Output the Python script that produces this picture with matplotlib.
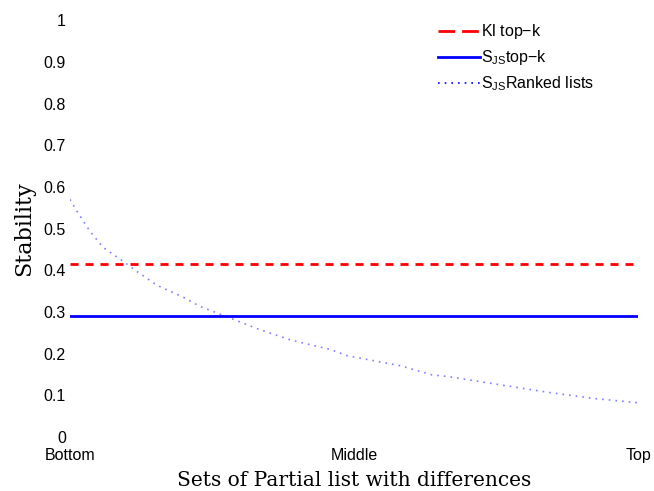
import numpy as np
import matplotlib.pyplot as plt

# data
kl_topk = 0.415
sjs_topk = 0.29
x_ranked = [0, 0.012, 0.035, 0.058, 0.095, 0.12, 0.153, 0.2, 0.229, 0.273, 0.333,
            0.39, 0.458, 0.488, 0.581, 0.637, 0.665, 0.772, 0.847, 0.925, 1.0]
y_ranked = [0.57, 0.542, 0.494, 0.455, 0.42, 0.395, 0.364, 0.335, 0.313, 0.29, 0.258,
            0.232, 0.21, 0.195, 0.171, 0.149, 0.145, 0.122, 0.106, 0.092, 0.082]
x_ticks = [0, 0.5, 1]
x_ticklabels = ['Bottom', 'Middle', 'Top']
y_ticks = [0, 0.1, 0.2, 0.3, 0.4, 0.5, 0.6, 0.7, 0.8, 0.9, 1]
y_ticklabels = ['0', '0.1', '0.2', '0.3', '0.4', '0.5', '0.6', '0.7', '0.8', '0.9', '1']

plt.rcParams['font.family'] = ['Liberation Sans', 'DejaVu Sans']
plt.rcParams['mathtext.fontset'] = 'custom'
plt.rcParams['mathtext.rm'] = 'Liberation Sans'
plt.rcParams['mathtext.it'] = 'Liberation Sans'

fig = plt.figure(figsize=(6.54, 4.91), dpi=100)
ax = fig.add_axes([0.107, 0.11, 0.869, 0.849])

ax.plot([0, 1], [kl_topk, kl_topk], color='red', ls=(0, (2.9, 2.5)), lw=2, label='Kl top$-$k')
ax.plot([0, 1], [sjs_topk, sjs_topk], color='blue', lw=2, label=r'S$_{\mathrm{JS}}$top$-$k')
ax.plot(x_ranked, y_ranked, color='blue', ls=(0, (1, 3)), lw=1.2, alpha=0.5,
        label=r'S$_{\mathrm{JS}}$Ranked lists')

ax.set_xlim(0, 1)
ax.set_ylim(0, 1)
ax.set_xticks(x_ticks)
ax.set_xticklabels(x_ticklabels, fontsize=11.5)
ax.set_yticks(y_ticks)
ax.set_yticklabels(y_ticklabels, fontsize=11.5)
ax.tick_params(axis='y', length=0, pad=3)
ax.tick_params(axis='x', length=0, pad=8)
for s in ax.spines.values():
    s.set_visible(False)

ax.set_xlabel('Sets of Partial list with differences', family='DejaVu Serif', fontsize=14.5, labelpad=6)
ax.set_ylabel('Stability', family='DejaVu Serif', fontsize=16, labelpad=6)

leg = ax.legend(loc='upper left', bbox_to_anchor=(0.648, 0.995), frameon=False, fontsize=11.5,
                handlelength=2.6, handletextpad=0.05, labelspacing=0.45,
                borderpad=0, borderaxespad=0)
lines = leg.get_lines()
for h in lines:
    h.set_alpha(1)
lines[0].set_linestyle((0, (6, 2.5)))

fig.savefig('out.png', dpi=100)
